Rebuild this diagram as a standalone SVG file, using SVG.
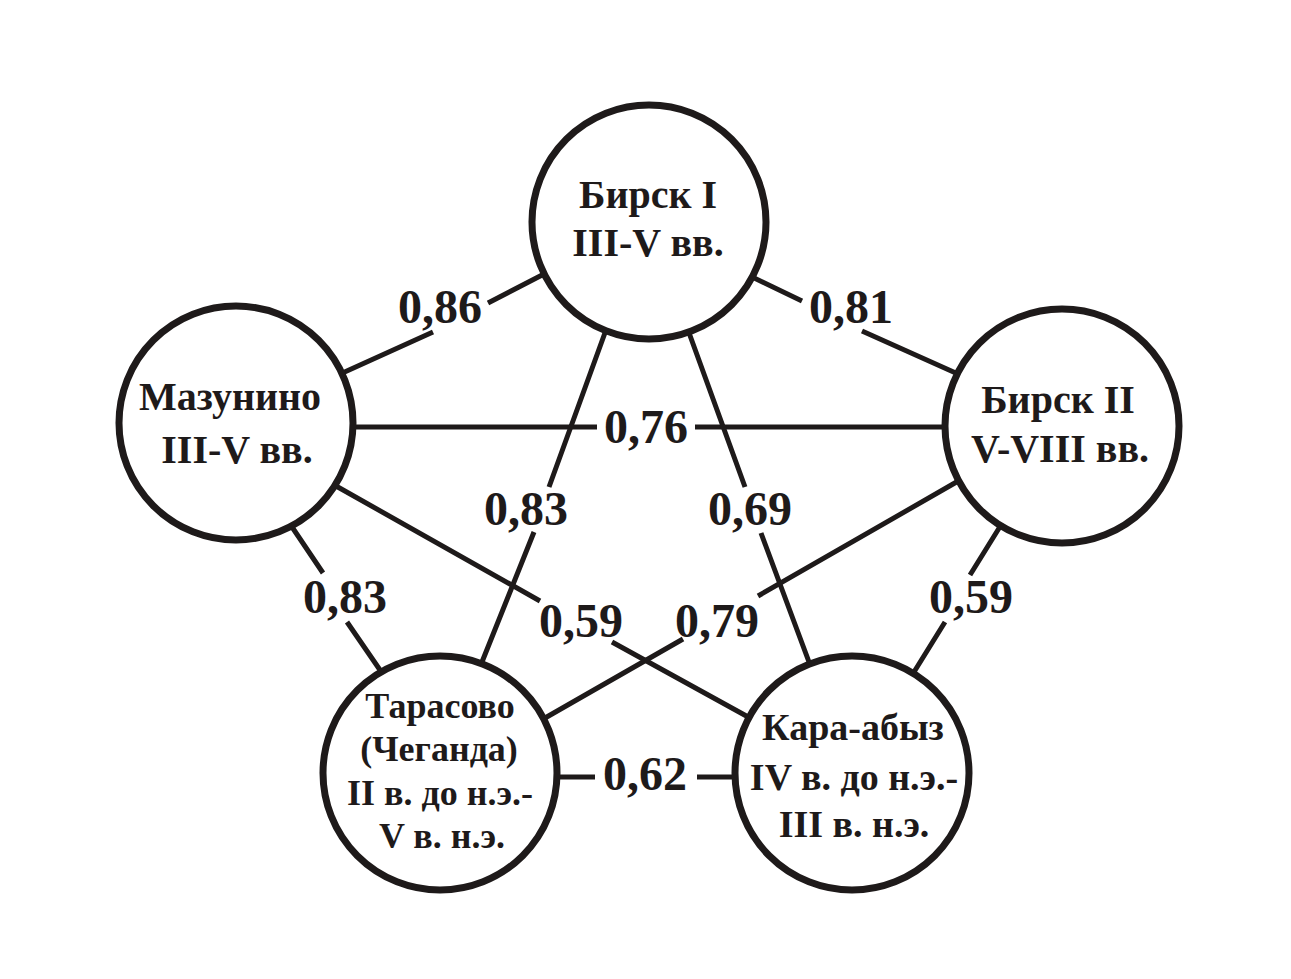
<svg xmlns="http://www.w3.org/2000/svg" width="1291" height="979" viewBox="0 0 1291 979">
<style>
.edge{stroke:#1e1a1a;stroke-width:5;fill:none}
.node{fill:#ffffff;stroke:#1e1a1a;stroke-width:7}
.lbl{font-family:"Liberation Serif","Times New Roman",serif;font-weight:bold;font-size:48px;fill:#1e1a1a;text-anchor:middle}
.nt{font-family:"Liberation Serif","Times New Roman",serif;font-weight:bold;font-size:40px;fill:#1e1a1a;text-anchor:middle}
.nts{font-family:"Liberation Serif","Times New Roman",serif;font-weight:bold;font-size:36px;fill:#1e1a1a;text-anchor:middle}
.ntk{font-family:"Liberation Serif","Times New Roman",serif;font-weight:bold;font-size:38px;fill:#1e1a1a;text-anchor:middle}
</style>
<rect width="1291" height="979" fill="#ffffff"/>
<g id="connectors">
<path class="edge" d="M338,375L433,332M488,303L546,273"/>
<path class="edge" d="M748,275L802,301M862,331L958,374"/>
<path class="edge" d="M350,427L597,427M695,427L950,427"/>
<path class="edge" d="M606,330L549,487M534,532L482,662"/>
<path class="edge" d="M688,330L745,487M761,533L809,662"/>
<path class="edge" d="M336,486L540,601M612,642L750,718"/>
<path class="edge" d="M960,480L758,596M683,639L545,718"/>
<path class="edge" d="M290,524L323,573M347,622L380,670"/>
<path class="edge" d="M1001,525L970,575M945,622L914,672"/>
<path class="edge" d="M555,777L595,777M697,777L740,777"/>
<text class="lbl" x="440" y="323">0,86</text>
<text class="lbl" x="851" y="323">0,81</text>
<text class="lbl" x="646" y="443">0,76</text>
<text class="lbl" x="526" y="525">0,83</text>
<text class="lbl" x="750" y="525">0,69</text>
<text class="lbl" x="345" y="613">0,83</text>
<text class="lbl" x="971" y="613">0,59</text>
<text class="lbl" x="581" y="637">0,59</text>
<text class="lbl" x="717" y="637">0,79</text>
<text class="lbl" x="645" y="790">0,62</text>
</g>
<g id="birsk1">
<circle class="node" cx="649" cy="222" r="117"/>
<text class="nt" x="648" y="208">Бирск I</text>
<text class="nt" x="648" y="256">III-V вв.</text>
</g>
<g id="mazunino">
<circle class="node" cx="236" cy="423" r="117"/>
<text class="nt" x="230" y="410">Мазунино</text>
<text class="nt" x="237" y="463">III-V вв.</text>
</g>
<g id="birsk2">
<circle class="node" cx="1062" cy="426" r="117"/>
<text class="nt" x="1058" y="413">Бирск II</text>
<text class="nt" x="1060" y="462">V-VIII вв.</text>
</g>
<g id="tarasovo">
<circle class="node" cx="440" cy="773" r="117"/>
<text class="nts" x="440" y="718">Тарасово</text>
<text class="nts" x="439" y="761">(Чеганда)</text>
<text class="nts" x="440" y="805">II в. до н.э.-</text>
<text class="nts" x="442" y="848">V в. н.э.</text>
</g>
<g id="karaabyz">
<circle class="node" cx="852" cy="773" r="117"/>
<text class="ntk" x="853" y="740">Кара-абыз</text>
<text class="ntk" x="854" y="790">IV в. до н.э.-</text>
<text class="ntk" x="854" y="837">III в. н.э.</text>
</g>
</svg>
